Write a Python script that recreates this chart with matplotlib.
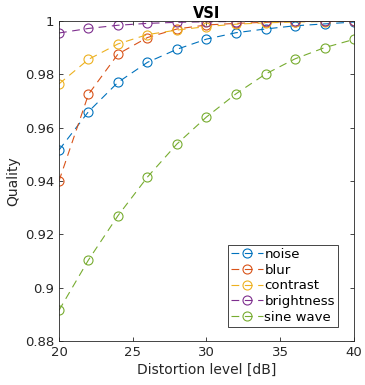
import matplotlib
matplotlib.use("Agg")
import matplotlib.pyplot as plt

levels = [20, 22, 24, 26, 28, 30, 32, 34, 36, 38, 40]
noise = [0.9516, 0.9660, 0.9770, 0.9845, 0.9894, 0.9932, 0.9956, 0.9970, 0.9982, 0.9989, 0.9996]
blur = [0.9400, 0.9725, 0.9876, 0.9938, 0.9970, 0.9985, 0.9991, 0.9995, 0.9998, 0.9999, 1.0000]
contrast = [0.9764, 0.9856, 0.9914, 0.9949, 0.9966, 0.9979, 0.9988, 0.9993, 0.9996, 0.9998, 0.9999]
brightness = [0.9955, 0.9972, 0.9984, 0.9991, 0.9995, 0.9997, 0.9998, 0.9999, 0.9999, 1.0000, 1.0000]
sine_wave = [0.8915, 0.9104, 0.9270, 0.9415, 0.9539, 0.9640, 0.9727, 0.9801, 0.9858, 0.9900, 0.9931]

names = ["noise", "blur", "contrast", "brightness", "sine wave"]
colors = ["#0072BD", "#D95319", "#EDB120", "#7E2F8E", "#77AC30"]
yticks = [0.88, 0.9, 0.92, 0.94, 0.96, 0.98, 1]
yticklabels = ["0.88", "0.9", "0.92", "0.94", "0.96", "0.98", "1"]

plt.rcParams["font.family"] = "DejaVu Sans"
fig = plt.figure(figsize=(3.65, 3.85), dpi=100)
ax = fig.add_axes([0.1616, 0.1143, 0.8083, 0.8312])

for series, name, c in zip([noise, blur, contrast, brightness, sine_wave], names, colors):
    ax.plot(levels, series, linestyle=(0, (7, 5)), color=c, lw=0.8,
            marker="o", markersize=6.5, markerfacecolor="none", markeredgewidth=0.8,
            label=name)

ax.set_xlim(20, 40)
ax.set_ylim(0.88, 1)
ax.set_xticks([20, 25, 30, 35, 40])
ax.set_yticks(yticks)
ax.set_yticklabels(yticklabels)
ax.tick_params(direction="in", top=True, right=True, labelsize=9.5, colors="#262626",
               length=3, width=0.6)
for s in ax.spines.values():
    s.set_linewidth(0.6)
    s.set_color("#262626")
ax.set_xlabel("Distortion level [dB]", fontsize=10, color="#262626", labelpad=3)
ax.set_ylabel("Quality", fontsize=10, color="#262626", labelpad=3)
ax.set_title("VSI", fontsize=10.5, fontweight="bold", pad=2)

leg = ax.legend(loc="lower right", bbox_to_anchor=(0.946, 0.044), borderaxespad=0,
                fontsize=9.5, fancybox=False, framealpha=1,
                edgecolor="#262626", handlelength=2.4, handletextpad=0.1,
                labelspacing=0.2, borderpad=0.25)
leg.get_frame().set_linewidth(0.6)

fig.savefig("out.png", dpi=100)
